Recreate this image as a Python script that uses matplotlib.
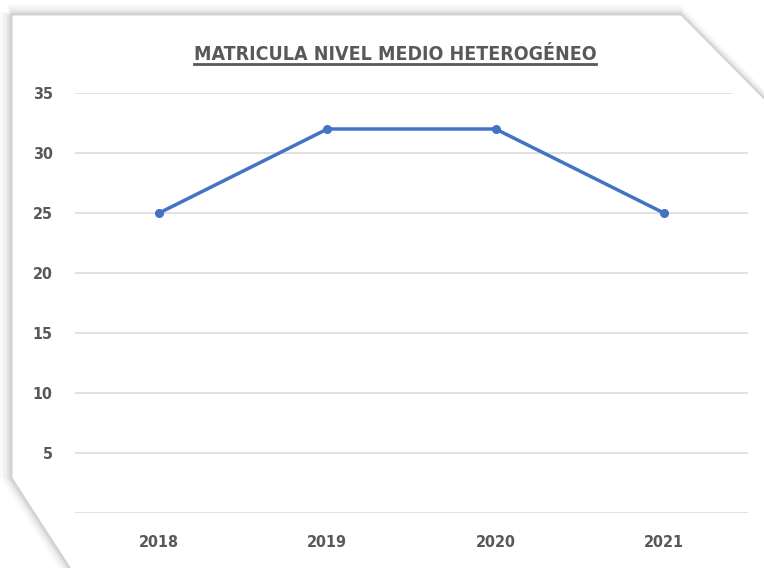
import matplotlib
matplotlib.use("Agg")
import matplotlib.pyplot as plt
from matplotlib.patches import Polygon
from matplotlib.lines import Line2D

# data
years = ["2018", "2019", "2020", "2021"]
matricula = [25, 32, 32, 25]
yticks = [0, 5, 10, 15, 20, 25, 30, 35]
title = "MATRICULA NIVEL MEDIO HETEROGÉNEO"

W, H = 764, 568
plt.rcParams['font.family'] = ['DejaVu Sans']
plt.rcParams['font.stretch'] = 'condensed'

fig = plt.figure(figsize=(W / 100, H / 100), dpi=100)
fig.patch.set_facecolor("white")


def px(x, y):
    return (x / W, 1 - y / H)


# card with cut corners and soft shadow
card = [(12, 15), (681, 15), (790, 125), (790, 600), (91, 600), (12, 478)]
for k, a in [(7, 0.025), (5, 0.035), (3, 0.05), (1.5, 0.07)]:
    sh = [(x - k * 0.6, y - k * 0.4) for x, y in card]
    fig.patches.append(Polygon([px(*p) for p in sh], closed=True,
                               transform=fig.transFigure, facecolor="none",
                               edgecolor="black", alpha=a, linewidth=k * 1.6,
                               zorder=0))
fig.patches.append(Polygon([px(*p) for p in card], closed=True,
                           transform=fig.transFigure, facecolor="white",
                           edgecolor="#d4d4d4", linewidth=0.8, zorder=0))

ax_l, ax_r, ax_t, ax_b = 75, 748, 93, 513
ax = fig.add_axes([ax_l / W, 1 - ax_b / H, (ax_r - ax_l) / W, (ax_b - ax_t) / H])
ax.set_facecolor("none")
ax.set_zorder(2)

x = range(len(years))
ax.plot(x, matricula, color="#4472C4", linewidth=2.5, marker="o",
        markersize=5.5, zorder=3, clip_on=False)

ax.set_xlim(-0.5, len(years) - 0.5)
ax.set_ylim(0, 35)
ax.set_xticks(list(x))
ax.set_xticklabels(years)
ax.set_yticks(yticks)
ax.set_yticklabels(["" if v == 0 else str(v) for v in yticks])
ax.tick_params(length=0, labelsize=11.5, labelcolor="#595959")
ax.tick_params(axis="y", pad=16)
ax.tick_params(axis="x", pad=16)
for lab in ax.get_xticklabels() + ax.get_yticklabels():
    lab.set_fontweight("bold")
for s in ax.spines.values():
    s.set_visible(False)

# gridlines clipped by the cut corner
clip = Polygon([px(0, 0), px(639, 0), px(1339, 700), px(0, 700)],
               closed=True, transform=fig.transFigure, visible=False)
for v in yticks:
    gl = ax.axhline(v, color="#d9d9d9", linewidth=1.1, zorder=1)
    gl.set_clip_path(clip)

# underlined title
t = fig.text(395 / W, 1 - 55 / H, title, ha="center", va="center",
             fontsize=14, fontweight="bold", color="#595959", zorder=5)
fig.canvas.draw()
bb = t.get_window_extent(fig.canvas.get_renderer())
uy = bb.y0 + 1
fig.add_artist(Line2D([bb.x0 / W, bb.x1 / W], [uy / H, uy / H],
                      transform=fig.transFigure, color="#595959", linewidth=2,
                      zorder=5))

fig.savefig("out.png", dpi=100, facecolor="white")
